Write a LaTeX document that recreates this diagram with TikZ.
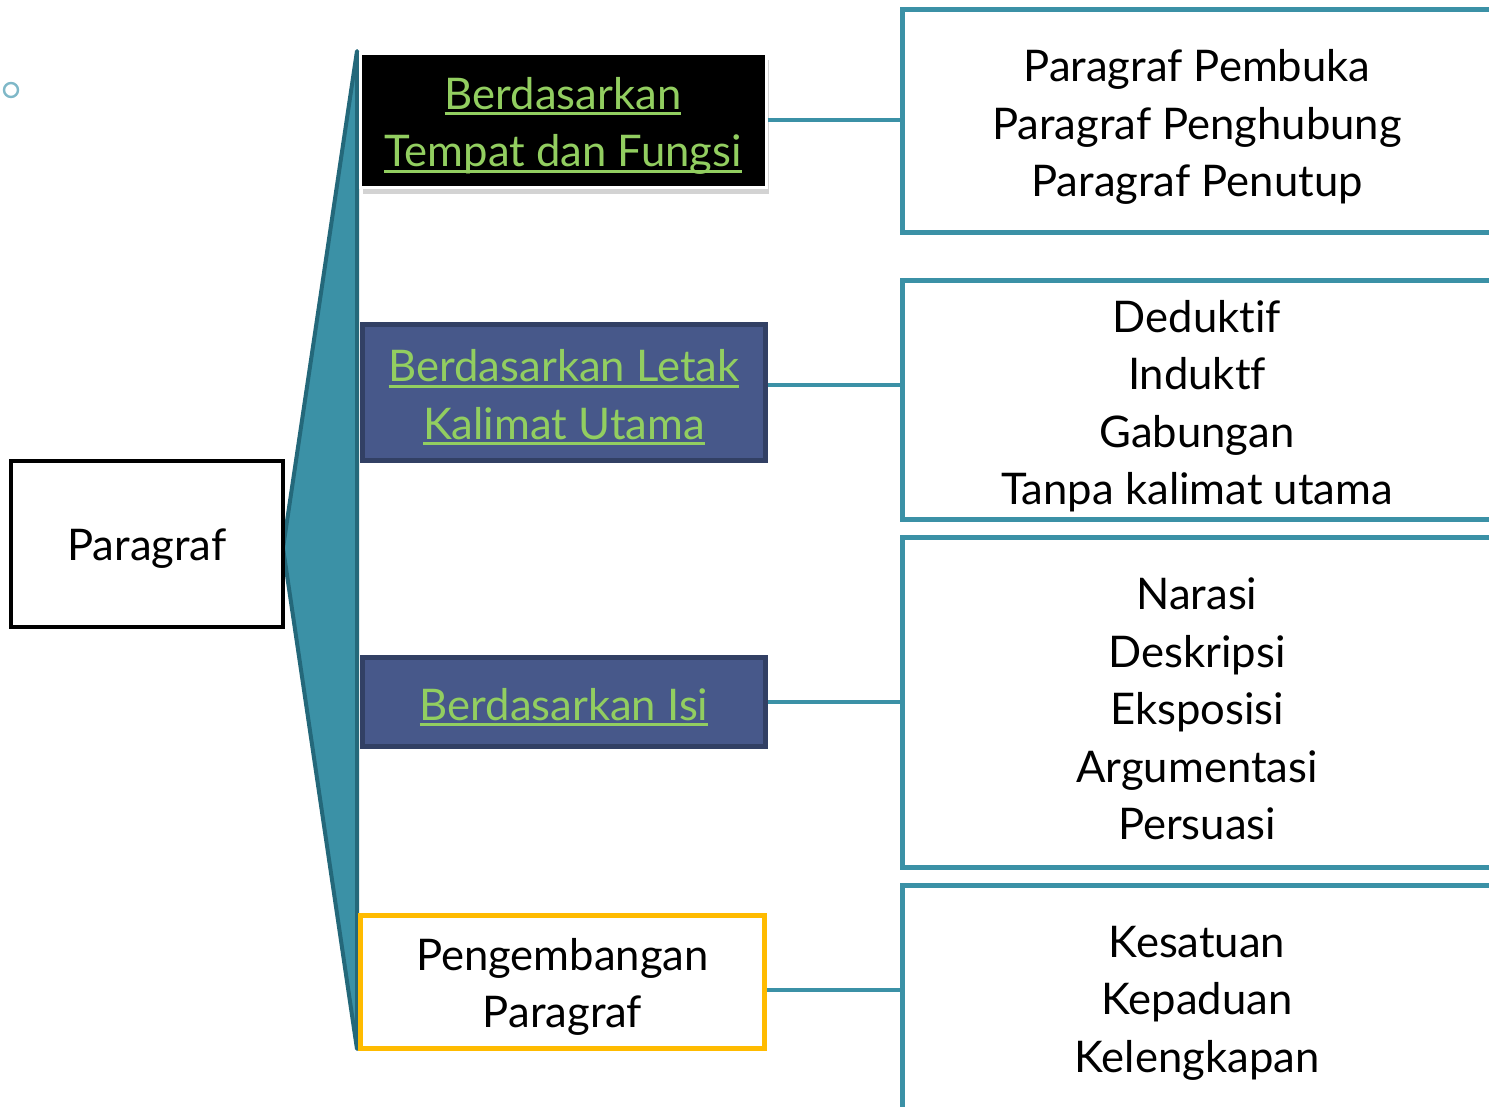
\documentclass[tikz,border=0pt]{standalone}
\usepackage{fontspec}
\setmainfont{Lato}[Ligatures=NoCommon]
\usetikzlibrary{shadows}
\definecolor{teal1}{RGB}{59,145,166}
\definecolor{teal2}{RGB}{36,104,122}
\definecolor{slate}{RGB}{71,88,138}
\definecolor{slatedark}{RGB}{50,64,100}
\definecolor{linkgreen}{RGB}{146,206,96}
\definecolor{amber}{RGB}{255,187,0}
\definecolor{ringblue}{RGB}{127,184,200}
\newcommand{\linktext}[1]{\setbox0\hbox{#1}\rlap{\rule[-0.14em]{\wd0}{0.07em}}\box0}

\begin{document}
\begin{tikzpicture}[x=0.5pt,y=-0.5pt,
  every node/.style={font=\fontsize{21.8}{28.75}\selectfont,align=center,inner sep=0pt},
  cat/.style={fill=slate,draw=slatedark,line width=2.5pt,minimum width=201.5pt},
  sub/.style={draw=teal1,line width=2.5pt,minimum width=398.5pt,anchor=west,outer sep=0pt},
  lbl/.style={yshift=-2.5pt},
  link/.style={draw=teal1,line width=2pt}]
  \useasboundingbox (0,0) rectangle (1489,1107);
  \clip (0,0) rectangle (1489,1107);
  \draw[ringblue,line width=1.2pt] (11,90) circle (3.5pt);
  % wedge
  \filldraw[fill=teal1,draw=teal2,line width=2pt,line join=round]
    (357,51) -- (283,548) -- (357,1049) -- cycle;
  \node[draw,line width=2pt,minimum width=136pt,minimum height=83pt] (P) at (147,544) {};
  \node[lbl] at (P.center) {Paragraf};
  % categories
  \node[fill=black,draw=white,line width=1.5pt,minimum width=203pt,minimum height=67pt,
    drop shadow={opacity=0.35,shadow xshift=1.5pt,shadow yshift=-3pt}] (c1) at (563,121) {};
  \node[cat,minimum height=68pt] (c2) at (564,392.5) {};
  \node[cat,minimum height=44.5pt] (c3) at (564,702) {};
  \node[draw=amber,line width=2.5pt,minimum width=202pt,minimum height=66.5pt] (c4) at (562.5,982) {};
  \node[lbl,text=linkgreen] at (c1.center) {\linktext{Berdasarkan}\\\linktext{Tempat dan Fungsi}};
  \node[lbl,text=linkgreen] at (c2.center) {\linktext{Berdasarkan Letak}\\\linktext{Kalimat Utama}};
  \node[lbl,text=linkgreen] at (c3.center) {\linktext{Berdasarkan Isi}};
  \node[lbl] at (c4.center) {Pengembangan\\Paragraf};
  % sub boxes
  \node[sub,minimum height=111.5pt] (s1) at (902.5,121) {};
  \node[sub,minimum height=119.5pt] (s2) at (902.5,400) {};
  \node[sub,minimum height=165pt] (s3) at (902.5,702.5) {};
  \node[sub,minimum height=156pt] (s4) at (902.5,1041.5) {};
  \node[lbl] (t1) at (1197,122) {Paragraf Pembuka\\Paragraf Penghubung\\Paragraf Penutup};
  \node[lbl] (t2) at (1197,401) {Deduktif\\Induktf\\Gabungan\\Tanpa kalimat utama};
  \node[lbl] (t3) at (1197,704) {Narasi\\Deskripsi\\Eksposisi\\Argumentasi\\Persuasi};
  \node[lbl] (t4) at (1197,998) {Kesatuan\\Kepaduan\\Kelengkapan};
  % connectors
  \draw[link] (c1.east |- 0,120) -- (s1.west |- 0,120);
  \draw[link] (c2.east |- 0,385) -- (s2.west |- 0,385);
  \draw[link] (c3.east) -- (s3.west |- c3.east);
  \draw[link] (c4.east |- 0,990) -- (s4.west |- 0,990);
\end{tikzpicture}
\end{document}
